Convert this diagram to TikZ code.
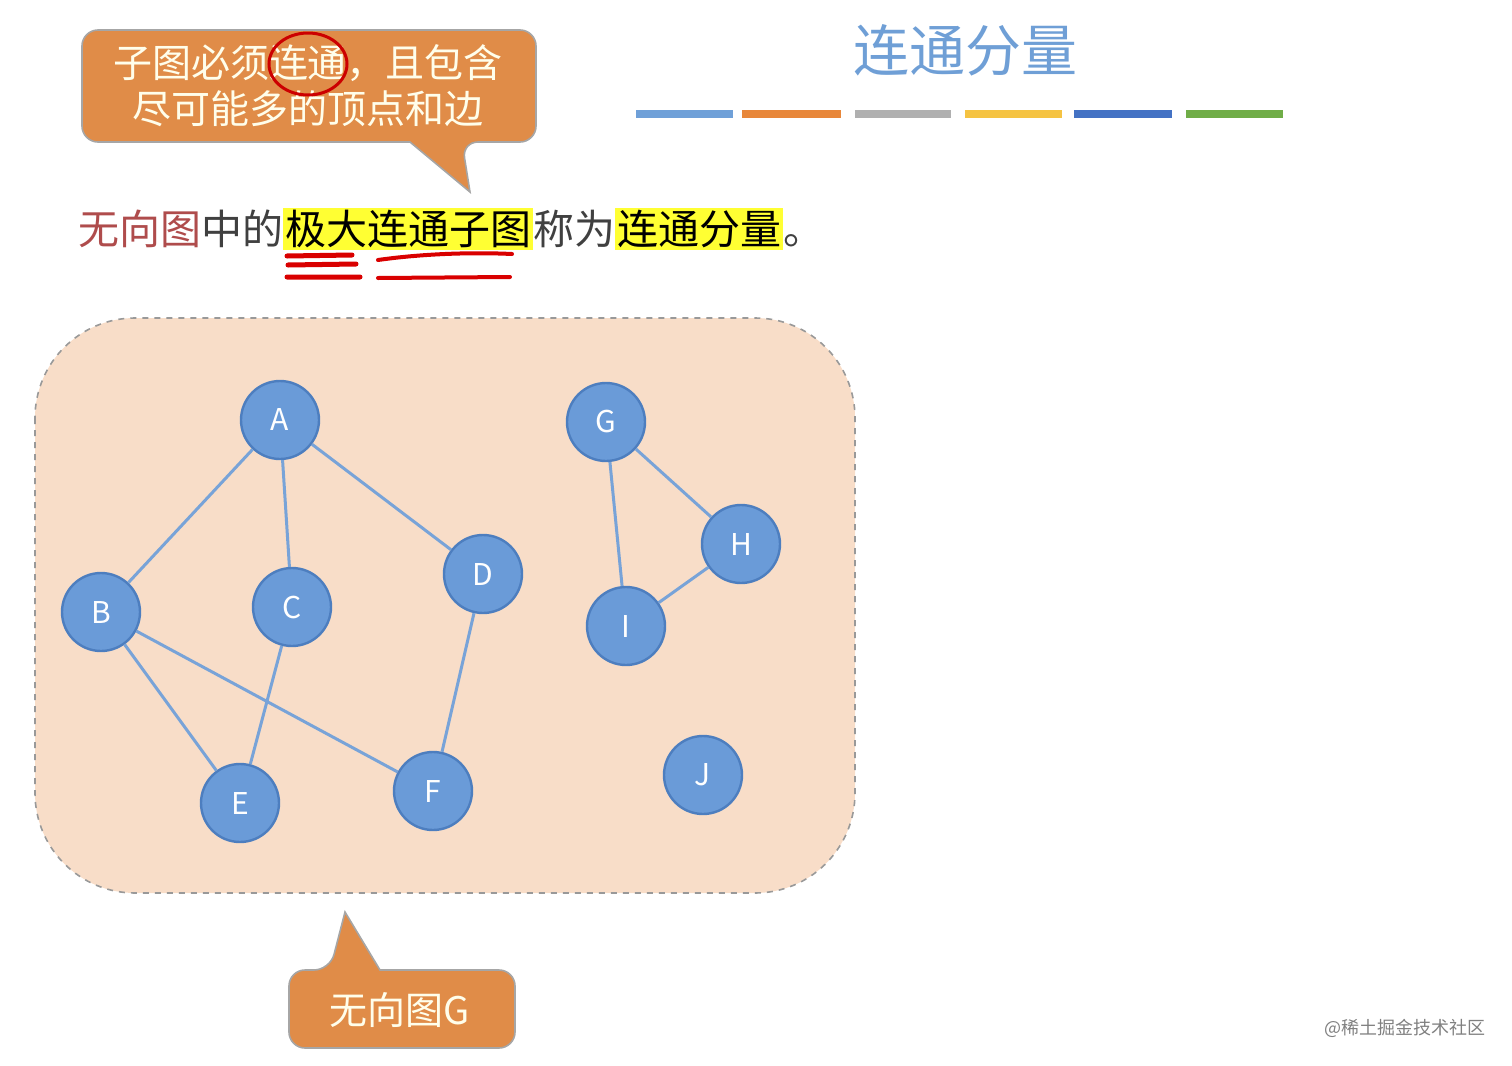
\documentclass[tikz,border=0pt]{standalone}
\usepackage{fontspec}
\setmainfont{Noto Sans CJK SC}
\newfontfamily\cjk{Noto Sans CJK SC}
\begin{document}
\begin{tikzpicture}[x=0.5pt,y=-0.5pt,
  vtx/.style={circle,fill=nodeblue,draw=nodeedge,line width=1.2pt,minimum size=39pt,inner sep=0pt,text=white,font=\fontsize{15}{15}\selectfont},
  edg/.style={draw=edgeblue,line width=1.5pt},
  callout/.style={fill=calloutor,draw=gray!70,line width=0.8pt},
  bar/.style={line width=4pt}]
\definecolor{nodeblue}{HTML}{6A9BD8}
\definecolor{nodeedge}{HTML}{4D7EBF}
\definecolor{edgeblue}{HTML}{78A3D8}
\definecolor{calloutor}{HTML}{E08C48}
\definecolor{regionfill}{HTML}{F8DDC8}
\definecolor{titleblue}{HTML}{6F9FD6}
\definecolor{hl}{HTML}{FFFF33}
\useasboundingbox (0,0) rectangle (1512,1066);
% region
\draw[fill=regionfill,draw=gray!80,dashed,line width=0.8pt,rounded corners=50pt] (35,318) rectangle (855,893);
% top callout
\draw[callout,rounded corners=8pt] (82,30) -- (536,30) -- (536,142) -- (462,142) [sharp corners]-- (470,192) -- (410,142) [rounded corners=8pt]-- (82,142) -- cycle;
\node[text=white!92!yellow,font=\fontsize{19.5}{23}\selectfont,align=center] (c1) at (308,86) {子图必须连通，且包含\\尽可能多的顶点和边};
\draw[red!80!black,line width=1.5pt] (308,64) ellipse (39 and 31);
% title
\node[text=titleblue,font=\fontsize{28}{28}\selectfont] (title) at (965,50) {连通分量};
\draw[bar,color={rgb,255:red,111;green,160;blue,216}] (636,114) -- (733,114);
\draw[bar,color={rgb,255:red,232;green,135;blue,58}] (742,114) -- (841,114);
\draw[bar,color={rgb,255:red,176;green,176;blue,176}] (855,114) -- (951,114);
\draw[bar,color={rgb,255:red,245;green,195;blue,66}] (965,114) -- (1062,114);
\draw[bar,color={rgb,255:red,68;green,114;blue,196}] (1074,114) -- (1172,114);
\draw[bar,color={rgb,255:red,112;green,173;blue,71}] (1186,114) -- (1283,114);
% sentence
\node[anchor=west,inner sep=0pt,font=\fontsize{20.5}{20.5}\selectfont] (sent) at (78,229)
 {\setlength{\fboxsep}{1pt}\textcolor{red!55!black!70}{无向图}\textcolor{black!75}{中的}\colorbox{hl}{极大连通子图}\textcolor{black!75}{称为}\colorbox{hl}{连通分量}\textcolor{black!75}{。}};
\draw[red!85!black,line width=2.5pt,line cap=round] (287,256) -- (352,255) (288,265) -- (356,264) (287,277) -- (360,277);
\draw[red!85!black,line width=2pt,line cap=round] (378,260) .. controls (420,254) and (470,252) .. (512,254) (378,278) -- (510,277);
% nodes
\node[vtx] (A) at (280,420) {A};
\node[vtx] (B) at (101,612) {B};
\node[vtx] (C) at (292,607) {C};
\node[vtx] (D) at (483,574) {D};
\node[vtx] (E) at (240,803) {E};
\node[vtx] (F) at (433,791) {F};
\node[vtx] (G) at (606,422) {G};
\node[vtx] (H) at (741,544) {H};
\node[vtx] (I) at (626,626) {I};
\node[vtx] (J) at (703,775) {J};
\draw[edg] (A) -- (B) (A) -- (C) (A) -- (D) (B) -- (F) (B) -- (E) (C) -- (E) (D) -- (F) (G) -- (I) (G) -- (H) (H) -- (I);
% bottom callout
\draw[callout,rounded corners=8pt] (289,970) -- (330,970) [sharp corners]-- (345,912) -- (380,970) [rounded corners=8pt]-- (515,970) -- (515,1048) -- (289,1048) -- cycle;
\node[text=white!92!yellow,font=\fontsize{19}{19}\selectfont] (c2) at (400,1010) {无向图G};
\node[text=gray,font=\fontsize{9}{9}\selectfont] (wm) at (1405,1028) {@稀土掘金技术社区};
\end{tikzpicture}
\end{document}
